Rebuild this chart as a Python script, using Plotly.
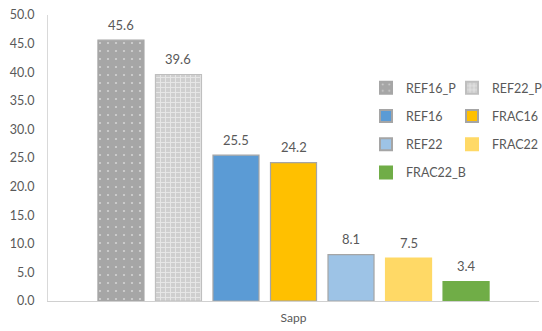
import plotly.graph_objects as go

# Series shown in the single "Sapp" category
categories = ["Sapp"]
series_names = ["REF16_P", "REF22_P", "REF16", "FRAC16", "REF22", "FRAC22", "FRAC22_B"]
series_values = [45.6, 39.6, 25.5, 24.2, 8.1, 7.5, 3.4]
y_ticks = [0, 5, 10, 15, 20, 25, 30, 35, 40, 45, 50]

# Styling per series
fill_colors = ["#a6a6a6", "#cfcfcf", "#5b9bd5", "#ffc000", "#9dc3e6", "#ffd966", "#70ad47"]
edge_colors = ["#a6a6a6", "#bfbfbf", "#a5a5a5", "#a5a5a5", "#a5a5a5", "#ffd966", "#70ad47"]
patterns = [".", "+", "", "", "", "", ""]
pattern_size = [8, 5, None, None, None, None, None]
pattern_solidity = [0.06, 0.35, None, None, None, None, None]
legend_ids = ["legend", "legend2", "legend", "legend2", "legend", "legend2", "legend"]

FONT = "Lato"
TEXT_GRAY = "#595959"

fig = go.Figure()
for i, name in enumerate(series_names):
    fc, ec = fill_colors[i], edge_colors[i]
    marker = dict(color=fc, line=dict(color=ec, width=1.2))
    if patterns[i]:
        marker["pattern"] = dict(shape=patterns[i], fgcolor="#ffffff", bgcolor=fc,
                                 size=pattern_size[i], solidity=pattern_solidity[i],
                                 fillmode="overlay")
    fig.add_trace(go.Bar(
        x=categories, y=[series_values[i]], name=name, marker=marker,
        legend=legend_ids[i], legendgroup=name, hoverinfo="skip",
    ))

# Value labels above each bar, placed at the centre of each bar slot
bargap = 0.18
n = len(series_names)
slot = (1 - bargap) / n
for i, val in enumerate(series_values):
    fig.add_annotation(
        x=-(1 - bargap) / 2 + slot * (i + 0.5), y=val,
        xref="x", yref="y", text=f"{val:.1f}", showarrow=False,
        yanchor="bottom", yshift=5.5,
        font=dict(family=FONT, size=13, color=TEXT_GRAY),
    )

PLOT_L, PLOT_R, PLOT_T, PLOT_B = 48, 539, 15, 301
plot_w, plot_h = PLOT_R - PLOT_L, PLOT_B - PLOT_T

legend_style = dict(
    font=dict(family=FONT, size=12.5, color=TEXT_GRAY),
    bgcolor="rgba(0,0,0,0)", orientation="v",
    tracegroupgap=9, itemsizing="constant",
    xanchor="left", yanchor="top", traceorder="grouped",
)

fig.update_layout(
    width=542, height=331,
    margin=dict(l=PLOT_L, r=542 - PLOT_R, t=PLOT_T, b=331 - PLOT_B, autoexpand=False),
    paper_bgcolor="white", plot_bgcolor="white",
    barmode="group", bargap=bargap, bargroupgap=0.2,
    font=dict(family=FONT, color=TEXT_GRAY),
    showlegend=True,
    legend=dict(x=(366 - PLOT_L) / plot_w, y=(PLOT_B - 73) / plot_h, **legend_style),
    legend2=dict(x=(452 - PLOT_L) / plot_w, y=(PLOT_B - 73) / plot_h, **legend_style),
    xaxis=dict(
        showline=True, linecolor="#d0d0d0", linewidth=1,
        showgrid=False, ticks="", ticklabelstandoff=6,
        tickfont=dict(family=FONT, size=12, color=TEXT_GRAY),
    ),
    yaxis=dict(
        range=[0, 50], tickvals=y_ticks, tickformat=".1f",
        showline=True, linecolor="#d9d9d9", linewidth=1,
        showgrid=False, zeroline=False, ticks="", ticklabelstandoff=10,
        tickfont=dict(family=FONT, size=12.5, color=TEXT_GRAY),
    ),
)

fig.write_html("out.html")
